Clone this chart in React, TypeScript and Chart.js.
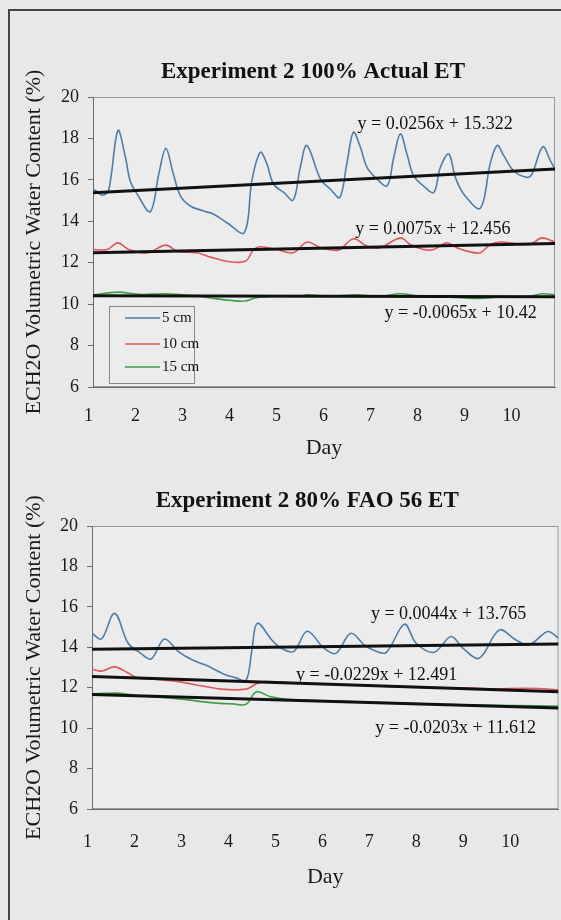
import React, { useEffect, useRef } from "react";
import { Chart, registerables } from "chart.js";

Chart.register(...registerables);

const FONT = "'Liberation Serif', 'Times New Roman', serif";
const PAGE_BG = "#e8e8e8";
const PLOT_BG = "#ececec";

// ---------- shared ----------
const seriesLabels = ["5 cm", "10 cm", "15 cm"];
const seriesColors = ["#4d7fab", "#e0565e", "#3f9f48"];
const yTitle = "ECH2O Volumetric Water Content (%)";
const xTitle = "Day";
const yMin = 6;
const yMax = 20;
const yStep = 2;
const dayTickLabels = [1, 2, 3, 4, 5, 6, 7, 8, 9, 10];

// ---------- top chart: Experiment 2 100% Actual ET ----------
const topTitle = "Experiment 2 100% Actual ET";
const top5Day = [1.0, 1.05, 1.19, 1.33, 1.53, 1.69, 1.79, 1.94, 2.22, 2.4, 2.55, 2.71, 2.86, 3.07, 3.35, 3.57, 3.85, 4.22, 4.38, 4.56, 4.7, 4.84, 5.06, 5.26, 5.41, 5.55, 5.84, 6.05, 6.25, 6.4, 6.54, 6.69, 6.83, 7.04, 7.26, 7.4, 7.54, 7.68, 7.82, 8.03, 8.25, 8.39, 8.57, 8.71, 8.89, 9.24, 9.45, 9.6, 9.74, 9.95, 10.23, 10.34, 10.57, 10.73, 10.83];
const top5Val = [15.45, 15.5, 15.26, 15.47, 18.38, 17.09, 15.96, 15.31, 14.47, 16.28, 17.52, 16.28, 15.23, 14.74, 14.5, 14.34, 13.93, 13.45, 15.96, 17.33, 16.77, 15.8, 15.39, 15.02, 16.6, 17.66, 16.04, 15.55, 15.15, 16.77, 18.3, 17.57, 16.6, 16.04, 15.71, 17.09, 18.22, 17.25, 16.2, 15.71, 15.39, 16.6, 17.25, 16.12, 15.31, 14.63, 16.77, 17.66, 17.17, 16.44, 16.12, 16.28, 17.6, 16.93, 16.52];
const top10Day = [1.0, 1.3, 1.53, 1.76, 2.15, 2.55, 2.79, 3.21, 3.5, 3.85, 4.24, 4.42, 4.56, 4.91, 5.26, 5.56, 5.84, 6.12, 6.26, 6.54, 6.83, 7.11, 7.54, 7.75, 8.03, 8.25, 8.53, 8.74, 8.96, 9.24, 9.45, 9.67, 10.02, 10.3, 10.55, 10.83];
const top10Val = [12.64, 12.64, 12.96, 12.64, 12.48, 12.85, 12.56, 12.48, 12.27, 12.07, 12.07, 12.64, 12.77, 12.64, 12.48, 13.0, 12.72, 12.6, 12.64, 13.16, 12.8, 12.72, 13.2, 12.88, 12.64, 12.64, 12.96, 12.72, 12.56, 12.48, 12.88, 13.0, 12.91, 12.88, 13.2, 13.0];
const top15Day = [1.0, 1.52, 2.0, 2.54, 3.07, 3.5, 3.92, 4.24, 4.45, 4.88, 5.41, 5.56, 6.05, 6.58, 7.11, 7.54, 7.96, 8.49, 8.92, 9.24, 9.67, 10.3, 10.55, 10.83];
const top15Val = [10.45, 10.58, 10.47, 10.5, 10.42, 10.3, 10.18, 10.15, 10.3, 10.38, 10.38, 10.45, 10.38, 10.45, 10.38, 10.5, 10.38, 10.35, 10.3, 10.28, 10.35, 10.38, 10.5, 10.45];
const topTrendStart = [15.38, 12.48, 10.41];
const topTrendEnd = [16.52, 12.93, 10.36];
const topEqText = ["y = 0.0256x + 15.322", "y = 0.0075x + 12.456", "y = -0.0065x + 10.42"];
const topEqDay = [8.28, 8.23, 8.82];
const topEqVal = [18.7, 13.6, 9.55];

// ---------- bottom chart: Experiment 2 80% FAO 56 ET ----------
const botTitle = "Experiment 2 80% FAO 56 ET";
const bot5Day = [1.0, 1.2, 1.48, 1.77, 2.04, 2.26, 2.54, 2.84, 3.14, 3.42, 3.63, 3.85, 4.05, 4.28, 4.4, 4.52, 4.85, 5.07, 5.3, 5.58, 5.94, 6.19, 6.51, 6.8, 7.0, 7.26, 7.65, 7.9, 8.28, 8.64, 8.9, 9.24, 9.67, 10.0, 10.3, 10.7, 10.93];
const bot5Val = [14.69, 14.41, 15.68, 14.2, 13.7, 13.42, 14.41, 13.79, 13.37, 13.12, 12.88, 12.63, 12.5, 12.38, 13.8, 15.19, 14.3, 13.9, 13.8, 14.79, 13.95, 13.7, 14.69, 14.1, 13.85, 13.74, 15.14, 14.2, 13.75, 14.53, 13.95, 13.46, 14.86, 14.4, 14.11, 14.78, 14.45];
const bot10Day = [1.0, 1.2, 1.48, 1.75, 1.95, 2.3, 2.84, 3.2, 3.75, 4.28, 4.5, 4.7, 5.5, 6.5, 7.5, 8.5, 9.5, 10.2, 10.6, 10.93];
const bot10Val = [12.93, 12.82, 13.03, 12.75, 12.5, 12.42, 12.3, 12.15, 11.93, 11.93, 12.2, 12.3, 12.22, 12.15, 12.05, 12.0, 11.95, 11.97, 11.95, 11.88];
const bot15Day = [1.0, 1.3, 1.55, 2.0, 2.84, 3.6, 4.0, 4.28, 4.5, 4.8, 5.2, 6.0, 7.0, 8.0, 9.0, 10.0, 10.93];
const bot15Val = [11.7, 11.72, 11.73, 11.6, 11.45, 11.25, 11.2, 11.18, 11.8, 11.55, 11.42, 11.35, 11.28, 11.2, 11.15, 11.12, 11.08];
const botTrendStart = [13.9, 12.55, 11.67];
const botTrendEnd = [14.16, 11.8, 11.0];
const botEqText = ["y = 0.0044x + 13.765", "y = -0.0229x + 12.491", "y = -0.0203x + 11.612"];
const botEqDay = [8.59, 7.06, 8.74];
const botEqVal = [15.63, 12.6, 10.0];

type PanelProps = {
  title: string;
  titleShift: number;
  top: number;
  height: number;
  padTop: number;
  padRight: number;
  yAxisWidth: number;
  xAxisHeight: number;
  xTickPad: number;
  xMax: number;
  days: number[][];
  vals: number[][];
  trendStart: number[];
  trendEnd: number[];
  eqText: string[];
  eqDay: number[];
  eqVal: number[];
  showLegend: boolean;
};

function Panel(p: PanelProps) {
  const ref = useRef<HTMLCanvasElement | null>(null);

  useEffect(() => {
    if (!ref.current) return;

    const trendSets = p.trendStart.map((s, i) => ({
      label: "trend " + seriesLabels[i],
      data: [
        { x: 1, y: s },
        { x: p.xMax, y: p.trendEnd[i] },
      ],
      borderColor: "#111111",
      borderWidth: 3,
      pointRadius: 0,
      tension: 0,
    }));
    const dataSets = p.days.map((d, i) => ({
      label: seriesLabels[i],
      data: d.map((x, j) => ({ x, y: p.vals[i][j] })),
      borderColor: seriesColors[i],
      borderWidth: 1.6,
      pointRadius: 0,
      tension: 0.35,
    }));

    const decor = {
      id: "decor",
      beforeDraw(chart: any) {
        const { ctx, chartArea: a } = chart;
        ctx.save();
        ctx.fillStyle = PLOT_BG;
        ctx.fillRect(a.left, a.top, a.right - a.left, a.bottom - a.top);
        ctx.strokeStyle = "#9a9a9a";
        ctx.lineWidth = 1;
        ctx.strokeRect(a.left + 0.5, a.top + 0.5, a.right - a.left - 1, a.bottom - a.top - 1);
        ctx.restore();
      },
      afterDatasetsDraw(chart: any) {
        const { ctx } = chart;
        const xs = chart.scales.x;
        const ys = chart.scales.y;
        ctx.save();
        ctx.font = `18px ${FONT}`;
        ctx.fillStyle = "#111111";
        ctx.textAlign = "center";
        ctx.textBaseline = "middle";
        p.eqText.forEach((t, i) => {
          ctx.fillText(t, xs.getPixelForValue(p.eqDay[i]), ys.getPixelForValue(p.eqVal[i]));
        });
        ctx.restore();
      },
      afterDraw(chart: any) {
        const { ctx, chartArea: a } = chart;
        ctx.save();
        ctx.font = `bold 23px ${FONT}`;
        ctx.fillStyle = "#111111";
        ctx.textAlign = "center";
        ctx.textBaseline = "middle";
        ctx.fillText(p.title, (a.left + a.right) / 2 + p.titleShift, a.top - 25);
        if (p.showLegend) {
          const bx = a.left + 16;
          const by = a.bottom - 81;
          const bw = 85;
          const bh = 77;
          ctx.fillStyle = PLOT_BG;
          ctx.fillRect(bx, by, bw, bh);
          ctx.strokeStyle = "#8a8a8a";
          ctx.lineWidth = 1;
          ctx.strokeRect(bx + 0.5, by + 0.5, bw, bh);
          ctx.font = `15px ${FONT}`;
          ctx.textAlign = "left";
          ctx.fillStyle = "#111111";
          const rows = [12, 38, 61];
          seriesLabels.forEach((lab, i) => {
            const yy = by + rows[i];
            ctx.strokeStyle = seriesColors[i];
            ctx.lineWidth = 1.6;
            ctx.beginPath();
            ctx.moveTo(bx + 16, yy);
            ctx.lineTo(bx + 51, yy);
            ctx.stroke();
            ctx.fillText(lab, bx + 53, yy);
          });
        }
        ctx.restore();
      },
    };

    const chart = new Chart(ref.current, {
      type: "line",
      data: { datasets: [...trendSets, ...dataSets] as any },
      options: {
        responsive: false,
        animation: false,
        events: [],
        layout: { padding: { top: p.padTop, right: p.padRight, left: 0, bottom: 0 } },
        plugins: { legend: { display: false }, tooltip: { enabled: false }, title: { display: false } },
        scales: {
          x: {
            type: "linear",
            min: 1,
            max: p.xMax,
            grid: { display: false, drawTicks: false },
            border: { display: true, color: "#6a6a6a", width: 1 },
            afterBuildTicks: (s: any) => {
              s.ticks = dayTickLabels.map((v) => ({ value: v }));
            },
            afterFit: (s: any) => {
              s.height = p.xAxisHeight;
            },
            ticks: {
              labelOffset: -4.5,
              padding: p.xTickPad,
              color: "#1a1a1a",
              font: { family: FONT, size: 18 },
              maxRotation: 0,
              autoSkip: false,
            },
            title: {
              display: true,
              text: xTitle,
              color: "#1a1a1a",
              font: { family: FONT, size: 22 },
              padding: { top: 0, bottom: 0 },
            },
          },
          y: {
            min: yMin,
            max: yMax,
            grid: { drawOnChartArea: false, drawTicks: true, tickLength: 5, color: "#6a6a6a" },
            border: { display: true, color: "#6a6a6a", width: 1 },
            afterFit: (s: any) => {
              s.width = p.yAxisWidth;
            },
            ticks: {
              stepSize: yStep,
              padding: 9,
              color: "#1a1a1a",
              font: { family: FONT, size: 18 },
            },
            title: {
              display: true,
              text: yTitle,
              color: "#1a1a1a",
              font: { family: FONT, size: 22 },
              padding: { top: 21, bottom: 0 },
            },
          },
        },
      },
      plugins: [decor],
    });
    return () => chart.destroy();
  }, []);

  return (
    <canvas
      ref={ref}
      width={561}
      height={p.height}
      style={{ position: "absolute", left: 0, top: p.top, width: 561, height: p.height }}
    />
  );
}

export default function App() {
  return (
    <div
      style={{
        position: "fixed",
        left: 0,
        top: 0,
        width: 561,
        height: 920,
        overflow: "hidden",
        background: PAGE_BG,
      }}
    >
      <div
        style={{
          position: "absolute",
          left: 8,
          top: 9,
          width: 600,
          height: 1000,
          border: "2px solid #444",
          boxSizing: "border-box",
        }}
      />
      <Panel
        title={topTitle}
        titleShift={-11}
        top={0}
        height={461}
        padTop={97}
        padRight={6}
        yAxisWidth={93}
        xAxisHeight={74}
        xTickPad={18}
        xMax={10.83}
        days={[top5Day, top10Day, top15Day]}
        vals={[top5Val, top10Val, top15Val]}
        trendStart={topTrendStart}
        trendEnd={topTrendEnd}
        eqText={topEqText}
        eqDay={topEqDay}
        eqVal={topEqVal}
        showLegend={true}
      />
      <Panel
        title={botTitle}
        titleShift={-18}
        top={462}
        height={428}
        padTop={64}
        padRight={2.5}
        yAxisWidth={92}
        xAxisHeight={81}
        xTickPad={22}
        xMax={10.93}
        days={[bot5Day, bot10Day, bot15Day]}
        vals={[bot5Val, bot10Val, bot15Val]}
        trendStart={botTrendStart}
        trendEnd={botTrendEnd}
        eqText={botEqText}
        eqDay={botEqDay}
        eqVal={botEqVal}
        showLegend={false}
      />
    </div>
  );
}
